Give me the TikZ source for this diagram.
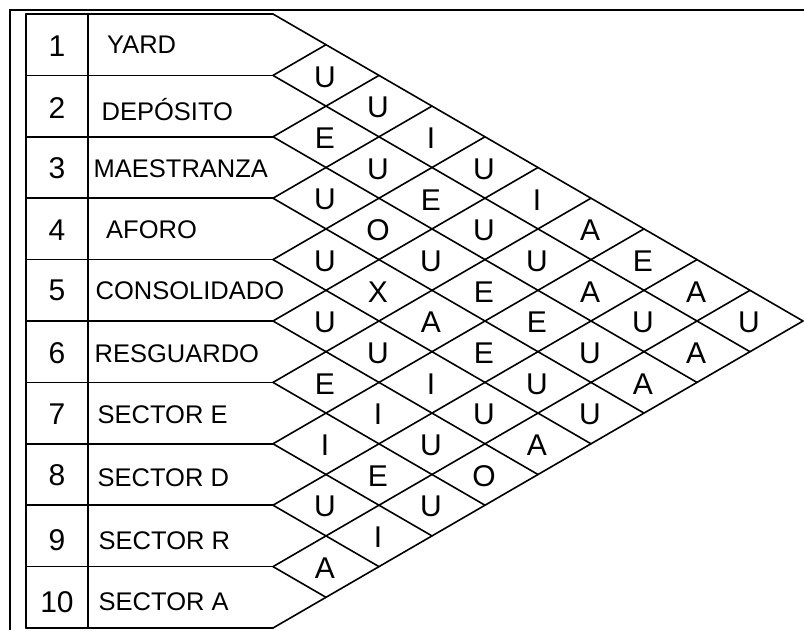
\documentclass[tikz,border=0pt]{standalone}
\usepackage{fontspec}
\setmainfont{Liberation Sans}
\begin{document}
\begin{tikzpicture}[x=1pt,y=-1pt,
  gridline/.style={line width=1.6pt, black, line cap=round},
  frameline/.style={line width=2pt, black},
  numtext/.style={font=\fontsize{30}{32}\selectfont, anchor=base, inner sep=0pt},
  lbltext/.style={font=\fontsize{25.5}{28}\selectfont, anchor=base west, inner sep=0pt},
  reltext/.style={font=\fontsize{30}{32}\selectfont, inner sep=0pt}]
\useasboundingbox (0,0) rectangle (804,630);
% outer frame
\coordinate (FA) at (10,630);
\coordinate (FB) at (10,9.5);
\coordinate (FC) at (804,9.5);
\draw[frameline] (FA) -- (FB) -- (FC);
% table coordinates
\foreach \k in {0,...,10}{
  \coordinate (B\k) at (26,{14+61.4*\k});
  \coordinate (C\k) at (88,{14+61.4*\k});
  \coordinate (P\k) at (273,{14+61.4*\k});
  \coordinate (D\k) at ({273+53*(10-\k)},{14+30.7*(10+\k)});
  \coordinate (U\k) at ({273+53*\k},{14+30.7*\k});
}
\draw[gridline] (B0) -- (B10);
\draw[gridline] (C0) -- (C10);
\foreach \k in {0,...,10}{
  \draw[gridline] (B\k) -- (P\k);
}
\foreach \k in {0,...,9}{
  \draw[gridline] (P\k) -- (D\k);
}
\foreach \k in {1,...,10}{
  \draw[gridline] (P\k) -- (U\k);
}
% numbers
\foreach \i/\b in {1/56.5,2/118.5,3/178.5,4/240,5/300.5,6/363,7/424,8/485.5,9/550,10/612}{
  \node[numtext] (n\i) at (57,\b) {\i};
}
% labels
\node[lbltext] (l1) at (107,53) {YARD};
\node[lbltext] (l2) at (101.5,120) {DEPÓSITO};
\node[lbltext] (l3) at (93.5,177) {MAESTRANZA};
\node[lbltext] (l4) at (106,238) {AFORO};
\node[lbltext] (l5) at (95.5,299) {CONSOLIDADO};
\node[lbltext] (l6) at (94.5,362) {RESGUARDO};
\node[lbltext] (l7) at (97.5,423) {SECTOR E};
\node[lbltext] (l8) at (97.5,486) {SECTOR D};
\node[lbltext] (l9) at (98.5,549) {SECTOR R};
\node[lbltext] (l10) at (98.5,610) {SECTOR A};
% relationship letters
\foreach \i/\j/\r in {
  1/2/U,2/3/E,3/4/U,4/5/U,5/6/U,6/7/E,7/8/I,8/9/U,9/10/A,
  1/3/U,2/4/U,3/5/O,4/6/X,5/7/U,6/8/I,7/9/E,8/10/I,
  1/4/I,2/5/E,3/6/U,4/7/A,5/8/I,6/9/U,7/10/U,
  1/5/U,2/6/U,3/7/E,4/8/E,5/9/U,6/10/O,
  1/6/I,2/7/U,3/8/E,4/9/U,5/10/A,
  1/7/A,2/8/A,3/9/U,4/10/U,
  1/8/E,2/9/U,3/10/A,
  1/9/A,2/10/A,
  1/10/U}{
  \node[reltext] (r\i-\j) at ({273+53*(\j-\i)-1},{14+30.7*(\i+\j-1)+1.5}) {\r};
}
\end{tikzpicture}
\end{document}
